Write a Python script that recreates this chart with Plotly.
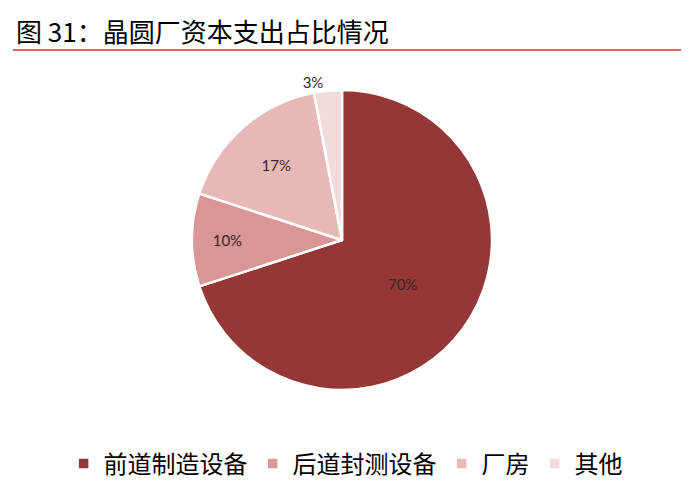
import plotly.graph_objects as go

# 晶圆厂资本支出占比
labels = ['前道制造设备', '后道封测设备', '厂房', '其他']
values = [70, 10, 17, 3]
colors = ['#953735', '#D99694', '#E6B9B8', '#F2DCDB']
text_pos = ['inside', 'inside', 'inside', 'outside']

title = '图 31：晶圆厂资本支出占比情况'

W, H = 689, 504
cx, cy, r = 334, 232, 150

fig = go.Figure()
fig.add_trace(go.Pie(
    labels=labels,
    values=values,
    sort=False,
    direction='clockwise',
    rotation=0,
    marker=dict(colors=colors, line=dict(color='white', width=2.5)),
    textinfo='percent',
    texttemplate='%{percent:.0%}',
    textposition=text_pos,
    insidetextorientation='horizontal',
    textfont=dict(family='Lato, Liberation Sans, sans-serif', size=15, color='#3a2626'),
    domain=dict(x=[(cx - r) / W, (cx + r) / W], y=[1 - (cy + r) / H, 1 - (cy - r) / H]),
    hoverinfo='label+percent',
))

# title and red rules
fig.add_annotation(text=title, xref='paper', yref='paper', x=6 / W, y=1 - 2 / H,
                   xanchor='left', yanchor='top', showarrow=False,
                   font=dict(family='Noto Sans CJK SC', size=26, color='#000000'))
fig.add_shape(type='line', xref='paper', yref='paper', x0=5 / W, x1=1, y0=1 - 42 / H, y1=1 - 42 / H,
              line=dict(color='#E8262A', width=1.5))
fig.add_shape(type='line', xref='paper', yref='paper', x0=5 / W, x1=1, y0=1 - 500 / H, y1=1 - 500 / H,
              line=dict(color='#E8262A', width=1.5))

fig.update_layout(
    width=W, height=H,
    margin=dict(l=0, r=0, t=0, b=0),
    paper_bgcolor='white',
    plot_bgcolor='white',
    showlegend=True,
    legend=dict(orientation='h', x=0.49, xanchor='center', y=1 - 456 / H, yanchor='middle',
                font=dict(family='Noto Sans CJK SC', size=24, color='#000000'),
                itemwidth=30, traceorder='normal'),
)

fig.write_html("out.html")
